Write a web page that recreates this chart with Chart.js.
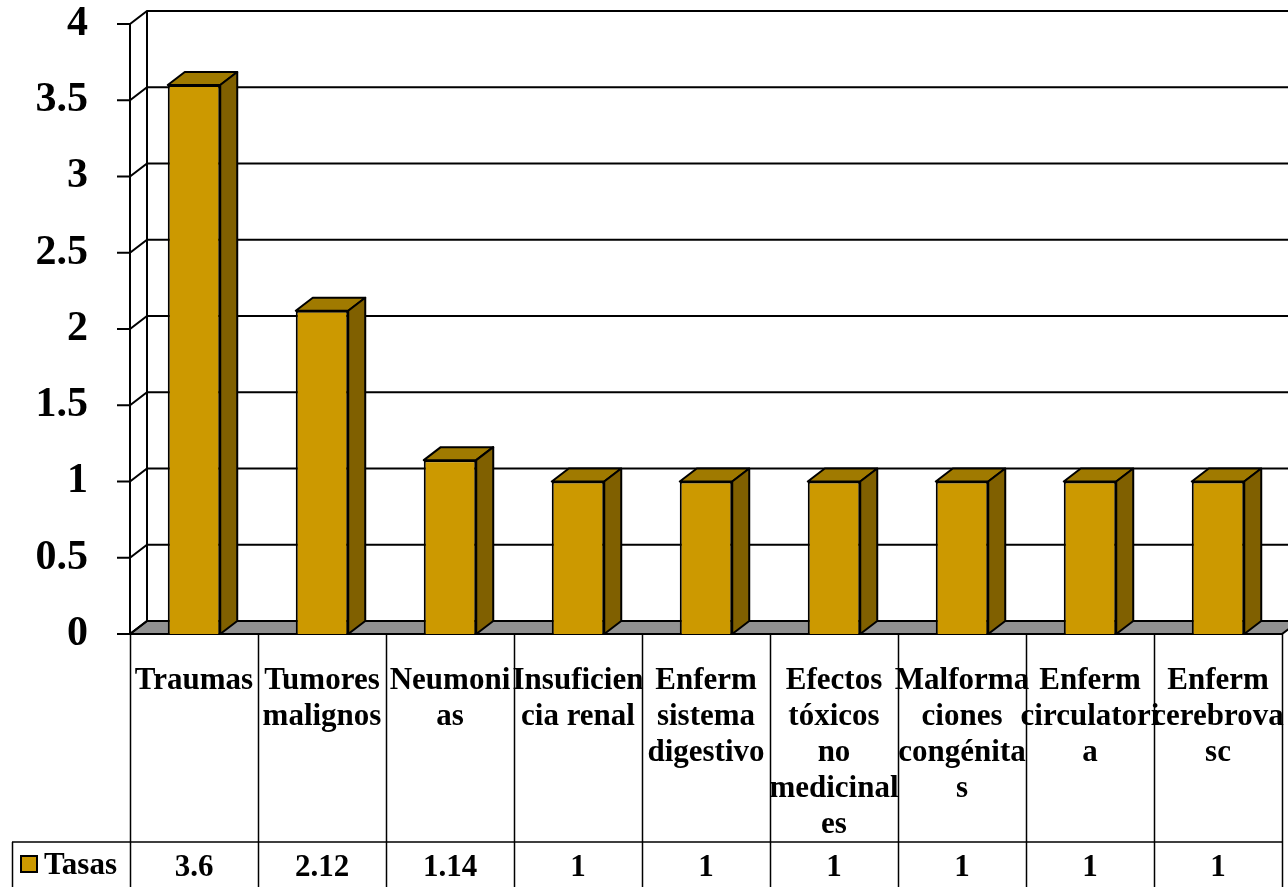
<!DOCTYPE html>
<html>
<head>
<meta charset="utf-8">
<script src="https://cdn.jsdelivr.net/npm/chart.js@4"></script>
<style>
  body { margin: 0; background: #fff; }
  #wrap { width: 1288px; height: 887px; position: relative; }
</style>
</head>
<body>
<div id="wrap"><canvas id="chart"></canvas></div>
<script>
const categories = [
    ['Traumas'],
    ['Tumores', 'malignos'],
    ['Neumoni', 'as'],
    ['Insuficien', 'cia renal'],
    ['Enferm', 'sistema', 'digestivo'],
    ['Efectos', 'tóxicos', 'no', 'medicinal', 'es'],
    ['Malforma', 'ciones', 'congénita', 's'],
    ['Enferm', 'circulatori', 'a'],
    ['Enferm', 'cerebrova', 'sc']
];
const tasas = [3.6, 2.12, 1.14, 1, 1, 1, 1, 1, 1];
const yTicks = [0, 0.5, 1, 1.5, 2, 2.5, 3, 3.5, 4];

const FONT = '"Liberation Serif", "Times New Roman", serif';
const DX = 17, DY = 13;

const box3d = {
    id: 'box3d',
    beforeDatasetsDraw(chart) {
        const ctx = chart.ctx;
        const a = chart.chartArea;
        const y = chart.scales.y;
        ctx.save();
        ctx.strokeStyle = '#000';
        ctx.lineWidth = 2;
        // floor
        const y0 = y.getPixelForValue(0);
        ctx.fillStyle = '#919191';
        ctx.beginPath();
        ctx.moveTo(a.left, y0);
        ctx.lineTo(a.right, y0);
        ctx.lineTo(a.right + DX, y0 - DY);
        ctx.lineTo(a.left + DX, y0 - DY);
        ctx.closePath();
        ctx.fill();
        ctx.stroke();
        // back wall grid, side wall diagonals, tick marks
        yTicks.forEach(v => {
            const py = y.getPixelForValue(v);
            ctx.beginPath();
            ctx.moveTo(a.left - 13, py);
            ctx.lineTo(a.left, py);
            ctx.lineTo(a.left + DX, py - DY);
            ctx.lineTo(chart.width + 20, py - DY);
            ctx.stroke();
        });
        ctx.beginPath();
        ctx.moveTo(a.left, a.top);
        ctx.lineTo(a.left, y0);
        ctx.moveTo(a.left + DX, a.top - DY);
        ctx.lineTo(a.left + DX, y0 - DY);
        ctx.stroke();
        ctx.restore();
    },
    afterDatasetsDraw(chart) {
        const ctx = chart.ctx;
        ctx.save();
        ctx.strokeStyle = '#000';
        ctx.lineWidth = 2;
        ctx.lineJoin = 'round';
        chart.getDatasetMeta(0).data.forEach(bar => {
            const l = bar.x - bar.width / 2, r = bar.x + bar.width / 2;
            ctx.fillStyle = '#a07a00';
            ctx.beginPath();
            ctx.moveTo(l, bar.y);
            ctx.lineTo(l + DX, bar.y - DY);
            ctx.lineTo(r + DX, bar.y - DY);
            ctx.lineTo(r, bar.y);
            ctx.closePath();
            ctx.fill();
            ctx.stroke();
            ctx.fillStyle = '#806000';
            ctx.beginPath();
            ctx.moveTo(r, bar.y);
            ctx.lineTo(r + DX, bar.y - DY);
            ctx.lineTo(r + DX, bar.base - DY);
            ctx.lineTo(r, bar.base);
            ctx.closePath();
            ctx.fill();
            ctx.stroke();
        });
        ctx.restore();
    },
    afterDraw(chart) {
        // data table under the chart
        const ctx = chart.ctx;
        const a = chart.chartArea;
        const x = chart.scales.x;
        const n = chart.data.labels.length;
        const cw = (a.right - a.left) / n;
        const rowTop = 842, bottom = chart.height;
        ctx.save();
        ctx.strokeStyle = '#000';
        ctx.lineWidth = 1.5;
        ctx.beginPath();
        for (let i = 0; i <= n; i++) {
            const px = i < n ? x.getPixelForValue(i) - cw / 2 : x.getPixelForValue(n - 1) + cw / 2;
            ctx.moveTo(Math.round(px) + 0.5, a.bottom);
            ctx.lineTo(Math.round(px) + 0.5, bottom);
        }
        ctx.moveTo(12, rowTop);
        ctx.lineTo(a.right, rowTop);
        ctx.moveTo(12.5, rowTop);
        ctx.lineTo(12.5, bottom);
        ctx.stroke();

        const ds = chart.data.datasets[0];
        ctx.fillStyle = '#000';
        ctx.font = 'bold 31px ' + FONT;
        ctx.textAlign = 'center';
        ctx.textBaseline = 'middle';
        ds.data.forEach((v, i) => {
            ctx.fillText(String(v), x.getPixelForValue(i), 868);
        });
        // legend key
        ctx.fillStyle = ds.backgroundColor;
        ctx.lineWidth = 2;
        ctx.fillRect(21, 856, 16, 16);
        ctx.strokeRect(21, 856, 16, 16);
        ctx.fillStyle = '#000';
        ctx.textAlign = 'left';
        ctx.fillText(ds.label, 44, 866);
        ctx.restore();
    }
};

new Chart(document.getElementById('chart'), {
    type: 'bar',
    data: {
        labels: categories,
        datasets: [{
            label: 'Tasas',
            data: tasas,
            backgroundColor: '#cc9900',
            borderColor: '#000',
            borderWidth: 2,
            categoryPercentage: 1,
            barPercentage: 0.41
        }]
    },
    options: {
        responsive: true,
        maintainAspectRatio: false,
        animation: false,
        layout: { padding: { top: 24, right: 6, left: 0, bottom: 0 } },
        plugins: { legend: { display: false }, tooltip: { enabled: false } },
        scales: {
            x: {
                grid: { display: false, drawTicks: false },
                border: { display: false },
                ticks: {
                    color: '#000',
                    font: { family: FONT, size: 31, weight: 'bold', lineHeight: 1.16 },
                    padding: 29,
                    maxRotation: 0,
                    minRotation: 0,
                    autoSkip: false
                },
                afterFit: s => {
                    s.height = 253;
                    s.paddingLeft = 0;
                    s.paddingRight = 0;
                }
            },
            y: {
                min: 0,
                max: 4,
                grid: { display: false, drawTicks: false },
                border: { display: false },
                afterBuildTicks: s => { s.ticks = yTicks.map(v => ({ value: v })); },
                ticks: {
                    color: '#000',
                    font: { family: FONT, size: 42, weight: 'bold' },
                    padding: 42,
                    callback: v => String(v)
                },
                afterFit: s => {
                    s.width = 130;
                    s.paddingTop = 0;
                    s.paddingBottom = 0;
                }
            }
        }
    },
    plugins: [box3d]
});
</script>
</body>
</html>
